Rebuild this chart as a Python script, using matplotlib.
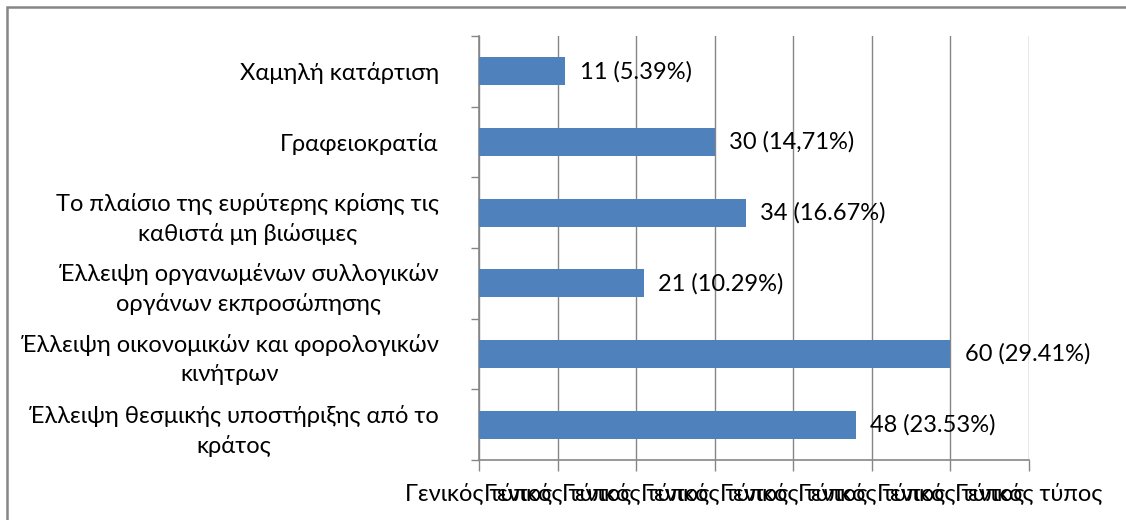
import matplotlib
matplotlib.use("Agg")
import matplotlib.pyplot as plt
from matplotlib.patches import Rectangle

categories = [
    "Χαμηλή κατάρτιση",
    "Γραφειοκρατία",
    "Το πλαίσιο της ευρύτερης κρίσης τις\nκαθιστά μη βιώσιμες",
    "Έλλειψη οργανωμένων συλλογικών\nοργάνων εκπροσώπησης",
    "Έλλειψη οικονομικών και φορολογικών\nκινήτρων",
    "Έλλειψη θεσμικής υποστήριξης από το\nκράτος",
]
values = [11, 30, 34, 21, 60, 48]
value_labels = ["11 (5.39%)", "30 (14,71%)", "34 (16.67%)", "21 (10.29%)", "60 (29.41%)", "48 (23.53%)"]
x_ticks = [0, 10, 20, 30, 40, 50, 60, 70]
x_tick_labels = ["Γενικός τύπος"] * 8

FONT = ["Lato", "DejaVu Sans"]
plt.rcParams["font.family"] = FONT
FS = 17

fig = plt.figure(figsize=(11.26, 5.2), dpi=100)
W, H = 1126, 520
ax = fig.add_axes([479 / W, 1 - 460 / H, 550 / W, 424 / H])

bar_color = "#4F81BD"
grid_color = "#868686"
ypos = list(range(len(categories)))
ax.barh(ypos, values, height=0.4, color=bar_color, zorder=3)
ax.set_ylim(len(categories) - 0.5, -0.5)
ax.set_xlim(0, 70)

ax.set_xticks(x_ticks)
ax.set_xticklabels(x_tick_labels, fontsize=FS, color="#000000")
ax.set_yticks(ypos)
ax.set_yticklabels(categories, fontsize=FS, color="#000000", linespacing=1.45,
                   multialignment="center")
ax.tick_params(axis="y", length=0, pad=29)
ax.tick_params(axis="x", length=8, color=grid_color, width=1, pad=8)
ax.set_yticks([i - 0.5 for i in range(len(categories) + 1)], minor=True)
ax.tick_params(axis="y", which="minor", length=6, color=grid_color, width=1, left=True)

ax.grid(axis="x", color=grid_color, linewidth=1, zorder=0)
for s in ["top", "right"]:
    ax.spines[s].set_visible(False)
for s in ["left", "bottom"]:
    ax.spines[s].set_color(grid_color)
    ax.spines[s].set_linewidth(1.2)

for y, v, lab in zip(ypos, values, value_labels):
    ax.text(v + 1.8, y, lab, va="center", ha="left", fontsize=FS, color="#000000", zorder=4)

fig.patches.append(Rectangle((7 / W, -0.1), 1.2, 1.1 - 7 / H, transform=fig.transFigure,
                             fill=False, edgecolor="#868686", linewidth=1.8))

fig.savefig("out.png", dpi=100)
